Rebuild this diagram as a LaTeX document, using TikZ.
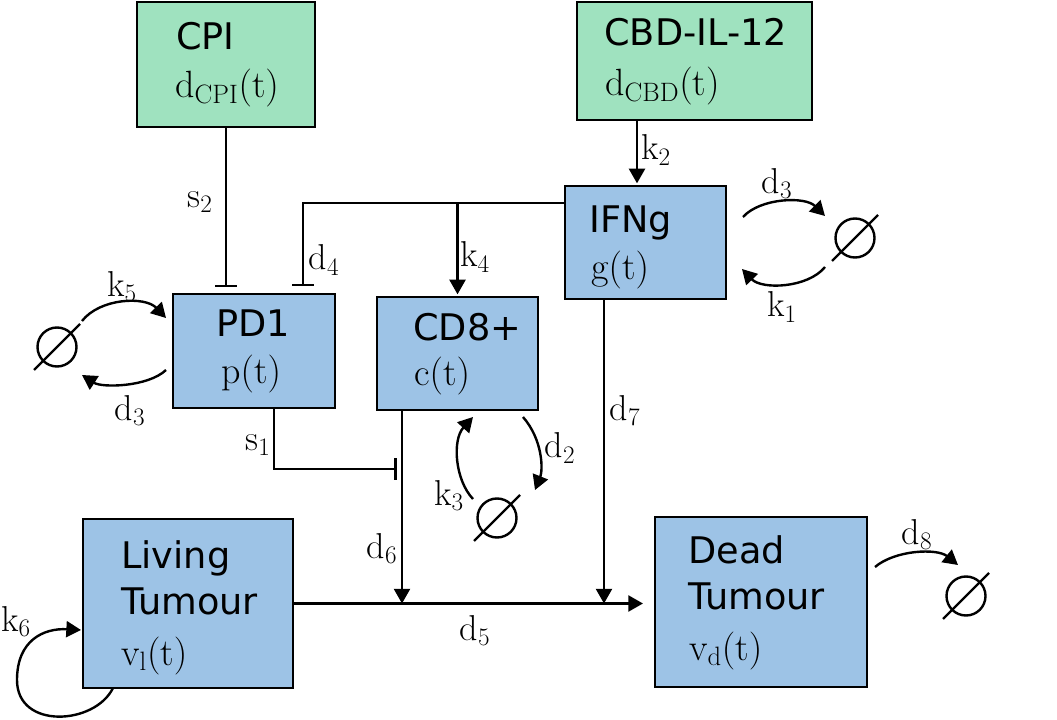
\RequirePackage{fix-cm}
\documentclass[tikz,border=0pt]{standalone}
\usepackage{fontspec}
\setsansfont{DejaVu Sans}
\usetikzlibrary{arrows.meta,calc}
\definecolor{boxgreen}{RGB}{159,226,191}
\definecolor{boxblue}{RGB}{157,195,230}
\tikzset{
  box/.style={draw=black, line width=2pt, inner sep=0pt, outer sep=0pt, rectangle},
  gbox/.style={box, fill=boxgreen},
  bbox/.style={box, fill=boxblue},
  ttl/.style={anchor=base west, inner sep=0pt, font=\sffamily\fontsize{27.5}{30}\selectfont},
  var/.style={anchor=base west, inner sep=0pt, font=\fontsize{28.5}{32}\selectfont},
  lab/.style={inner sep=0pt, font=\fontsize{27}{32}\selectfont},
  conn/.style={line width=1.8pt},
  act/.style={conn, -{Triangle[length=11pt,width=12pt]}},
  inh/.style={conn, -{Bar[width=16pt]}},
  nullset/.style={circle, draw, line width=1.8pt, minimum size=39*0.75pt, inner sep=0pt, outer sep=0pt},
}
\begin{document}
\begin{tikzpicture}[x=0.75pt,y=-0.75pt]
\useasboundingbox (0,0) rectangle (1057,720);

% boxes
\node[gbox, minimum width=178*0.75pt, minimum height=125*0.75pt] (CPI) at (226,64.5) {};
\node[gbox, minimum width=235*0.75pt, minimum height=118*0.75pt] (CBD) at (694.5,61) {};
\node[bbox, minimum width=161*0.75pt, minimum height=113*0.75pt] (IFNg) at (645.5,242.5) {};
\node[bbox, minimum width=162*0.75pt, minimum height=114*0.75pt] (PD1) at (254,351) {};
\node[bbox, minimum width=161*0.75pt, minimum height=113*0.75pt] (CD8) at (457.5,353.5) {};
\node[bbox, minimum width=210*0.75pt, minimum height=169*0.75pt] (LT) at (188,603.5) {};
\node[bbox, minimum width=212*0.75pt, minimum height=170*0.75pt] (DT) at (761,602) {};

% box texts
\node[ttl] (CPIt) at (176,50) {CPI};
\node[var] (CPIv) at (175,98) {$\mathrm{d_{CPI}(t)}$};
\node[ttl] (CBDt) at (604,46) {CBD-IL-12};
\node[var] (CBDv) at (605,96) {$\mathrm{d_{CBD}(t)}$};
\node[ttl] (IFNgt) at (589,233) {IFNg};
\node[var] (IFNgv) at (591,280) {$\mathrm{g(t)}$};
\node[ttl] (PD1t) at (216,337) {PD1};
\node[var] (PD1v) at (221,383) {$\mathrm{p(t)}$};
\node[ttl] (CD8t) at (413,341) {CD8+};
\node[var] (CD8v) at (414,386) {$\mathrm{c(t)}$};
\node[ttl] (LTt1) at (121,568) {Living};
\node[ttl] (LTt2) at (121,614) {Tumour};
\node[var] (LTv) at (121,665) {$\mathrm{v_l(t)}$};
\node[ttl] (DTt1) at (688,563) {Dead};
\node[ttl] (DTt2) at (688,609) {Tumour};
\node[var] (DTv) at (689,660) {$\mathrm{v_d(t)}$};

% null sets
\node[nullset] (n1) at (57,347) {};
\node[nullset] (n2) at (855,238) {};
\node[nullset] (n3) at (497,518) {};
\node[nullset] (n4) at (966,596) {};
\foreach \n in {n1,n2,n3,n4}
  \draw[conn] ([shift={(-23,23)}]\n.center) -- ([shift={(23,-23)}]\n.center);

% coordinates
\coordinate (k2s) at ([shift={(-57.5,0)}]CBD.south);
\coordinate (ifw) at ([shift={(0,-39.5)}]IFNg.west);
\coordinate (d4e) at ([shift={(49,0)}]PD1.north);
\coordinate (d7s) at ([shift={(-41.5,0)}]IFNg.south);
\coordinate (d6s) at ([shift={(-55.5,0)}]CD8.south);
\coordinate (s1s) at ([shift={(20,0)}]PD1.south);
\coordinate (s1e) at (d6s |- 0,469);
\coordinate (k6m) at ([shift={(-66,76.5)}]LT.west);

% straight connectors
\draw[inh, shorten >=5pt] (CPI.south) -- (CPI.south |- PD1.north);
\draw[act, shorten >=2pt] (k2s) -- (k2s |- IFNg.north);
\draw[inh, shorten >=6pt] (ifw) -| (d4e);
\draw[act, shorten >=2pt] (ifw -| CD8.north) -- (CD8.north);
\draw[act] (d7s) -- (d7s |- LT.east);
\draw[act] (d6s) -- (d6s |- LT.east);
\draw[inh, shorten >=4pt] (s1s) |- (s1e);
\draw[act, shorten >=9pt] (LT.east) -- (LT.east -| DT.west);

% curved connectors
\draw[act] ([shift={(25,-26)}]n1.center) .. controls +(18,-23) and +(-21,-22) .. ([shift={(-7,-33)}]PD1.west);
\draw[act] ([shift={(-7,19)}]PD1.west) .. controls +(-18,17) and +(20,13) .. ([shift={(25,28)}]n1.center);
\draw[act] ([shift={(17,-25.5)}]IFNg.east) .. controls +(17,-19) and +(-20,-20) .. ([shift={(-30,-22)}]n2.center);
\draw[act] ([shift={(-30,29)}]n2.center) .. controls +(-17,21) and +(20,21) .. ([shift={(16,26.5)}]IFNg.east);
\draw[act] ([shift={(-24,-19)}]n3.center) .. controls +(-18,-19) and +(-21,23) .. ([shift={(15.5,7)}]CD8.south);
\draw[act] ([shift={(65.5,7)}]CD8.south) .. controls +(20,23) and +(8,-20) .. ([shift={(38,-28)}]n3.center);
\draw[act] ([shift={(8,-35)}]DT.east) .. controls +(20,-17) and +(-21,-17) .. ([shift={(-8,-31)}]n4.center);
\draw[act] ([shift={(-75,0)}]LT.south) .. controls +(-18,37) and +(0,50) .. (k6m)
  .. controls +(0,-40) and +(-37,-2) .. ([shift={(-2,26.5)}]LT.west);

% labels
\node[lab] (ls2) at (200,202) {$\mathrm{s_2}$};
\node[lab] (lk2) at (656,150) {$\mathrm{k_2}$};
\node[lab] (ld4) at (324,260) {$\mathrm{d_4}$};
\node[lab] (lk4) at (475,257) {$\mathrm{k_4}$};
\node[lab] (lk5) at (122,287) {$\mathrm{k_5}$};
\node[lab] (ld3a) at (130,411) {$\mathrm{d_3}$};
\node[lab] (ld3b) at (777,184) {$\mathrm{d_3}$};
\node[lab] (lk1) at (782,307) {$\mathrm{k_1}$};
\node[lab] (ls1) at (258,445) {$\mathrm{s_1}$};
\node[lab] (ld2) at (560,448) {$\mathrm{d_2}$};
\node[lab] (lk3) at (449,496) {$\mathrm{k_3}$};
\node[lab] (ld6) at (382,549) {$\mathrm{d_6}$};
\node[lab] (ld7) at (625,411) {$\mathrm{d_7}$};
\node[lab] (ld5) at (475,631) {$\mathrm{d_5}$};
\node[lab] (ld8) at (917,535) {$\mathrm{d_8}$};
\node[lab] (lk6) at (16,622) {$\mathrm{k_6}$};
\end{tikzpicture}
\end{document}
